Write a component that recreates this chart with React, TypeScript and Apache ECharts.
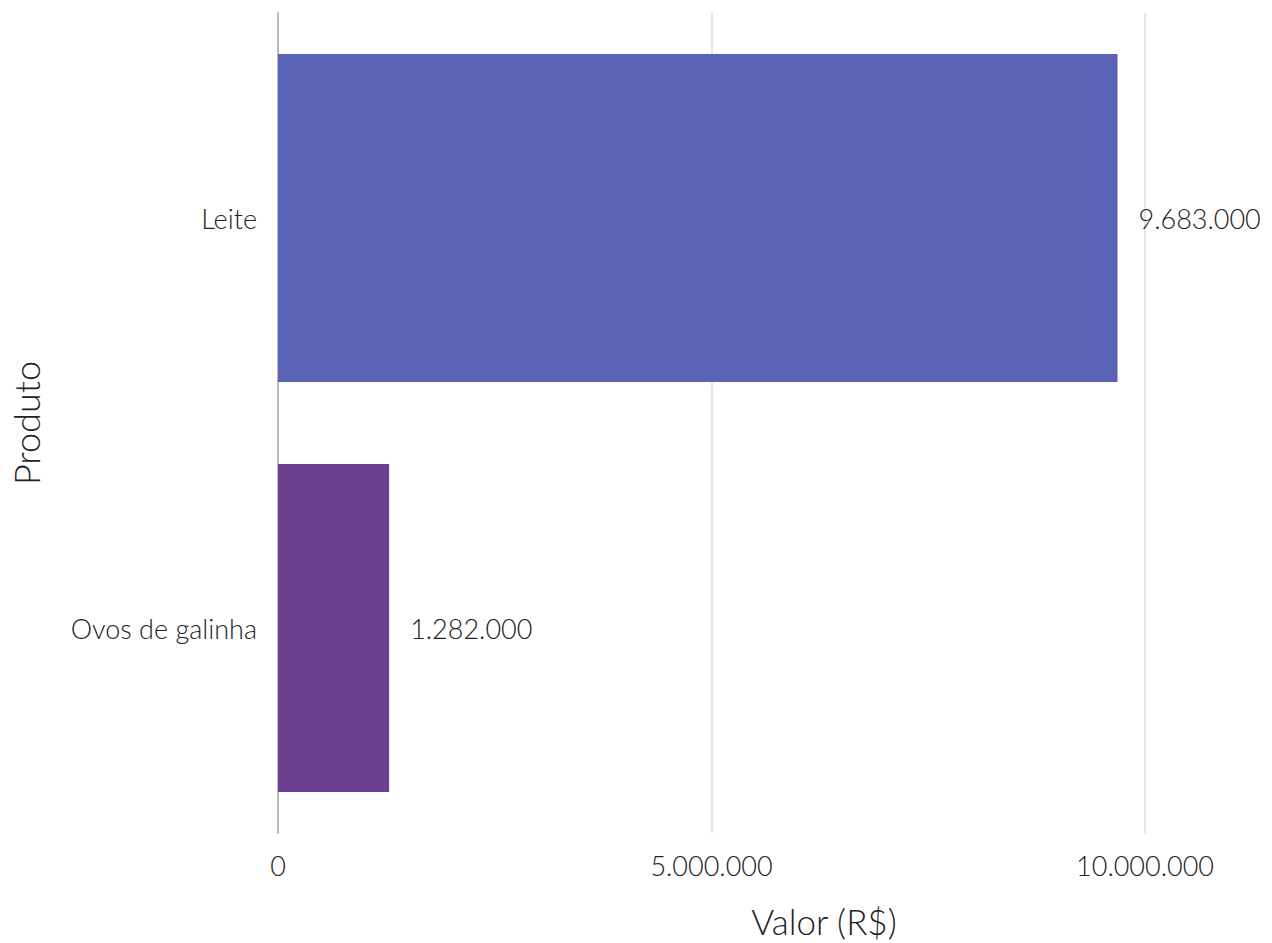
import React, { useEffect, useRef } from "react";
import * as echarts from "echarts";

const categories = ["Leite", "Ovos de galinha"];
const values = [9683000, 1282000];
const barColors = ["#5B63B7", "#6C3F91"];
const xTicks = [0, 5000000, 10000000];
const xTitle = "Valor (R$)";
const yTitle = "Produto";

const fmt = (v: number) => Math.round(v).toString().replace(/\B(?=(\d{3})+(?!\d))/g, ".");

const FONT = "Lato";

export default function App() {
  const ref = useRef<HTMLDivElement>(null);
  useEffect(() => {
    if (!ref.current) return;
    const chart = echarts.init(ref.current, undefined, { renderer: "svg" });
    chart.setOption({
      animation: false,
      backgroundColor: "#ffffff",
      textStyle: { fontFamily: FONT, fontWeight: 300 },
      grid: { left: 277, right: 127, top: 13, bottom: 110, containLabel: false },
      graphic: [
        {
          type: "text",
          x: 824,
          y: 921,
          style: {
            text: xTitle,
            fontFamily: FONT,
            fontWeight: 300,
            fontSize: 35,
            fill: "#222",
            textAlign: "center",
            textVerticalAlign: "middle",
          },
        },
      ],
      xAxis: {
        type: "value",
        min: xTicks[0],
        max: xTicks[xTicks.length - 1],
        interval: 5000000,
        axisLine: { show: false },
        axisTick: { show: false },
        axisLabel: {
          formatter: (v: number) => fmt(v),
          fontFamily: FONT,
          fontWeight: 300,
          fontSize: 27,
          color: "#222",
          margin: 19,
        },
        splitLine: { show: true, lineStyle: { color: "#dcdcdc", width: 1.5 } },
      },
      yAxis: {
        type: "category",
        data: categories,
        inverse: true,
        name: yTitle,
        nameLocation: "middle",
        nameGap: 234,
        nameRotate: 90,
        nameTextStyle: { fontFamily: FONT, fontWeight: 300, fontSize: 36, color: "#222" },
        axisLine: { show: true, lineStyle: { color: "#bbbbbb", width: 2 } },
        axisTick: { show: false },
        axisLabel: {
          fontFamily: FONT,
          fontWeight: 300,
          fontSize: 27,
          color: "#222",
          margin: 21,
          padding: [0, 0, 6, 0],
        },
        splitLine: { show: false },
      },
      series: [
        {
          type: "bar",
          data: values.map((v, i) => ({ value: v, itemStyle: { color: barColors[i] } })),
          barCategoryGap: "20%",
          label: {
            show: true,
            position: "right",
            distance: 21,
            padding: [0, 0, 6, 0],
            formatter: (p: any) => fmt(p.value),
            fontFamily: FONT,
            fontWeight: 300,
            fontSize: 27,
            color: "#222",
          },
        },
      ],
    });
    return () => chart.dispose();
  }, []);
  return <div ref={ref} style={{ width: 1272, height: 943, position: "absolute", left: 0, top: 0 }} />;
}
